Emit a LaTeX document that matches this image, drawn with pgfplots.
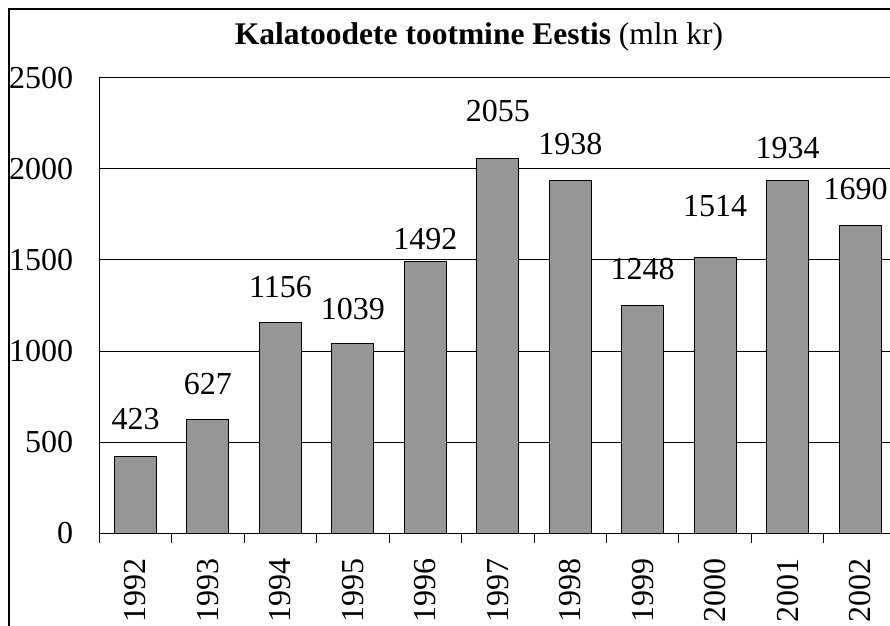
\documentclass[border=0pt]{standalone}
\usepackage{fontspec}
\setmainfont{Liberation Serif}
\usepackage{pgfplots}
\pgfplotsset{compat=1.18}
\definecolor{barGray}{HTML}{969696}
\begin{document}
\begin{tikzpicture}
\clip (0,0) rectangle (890pt,625pt);
\fill[white] (0,0) rectangle (890pt,625pt);
\begin{axis}[
  at={(99.3pt,91.7pt)}, anchor=south west,
  scale only axis, width=797pt, height=455.6pt,
  xmin=-0.5, xmax=10.5, ymin=0, ymax=2500,
  axis x line=bottom, axis y line=left,
  axis line style={line width=1.3pt, -},
  xtick={0,...,10},
  xticklabels={\textrm{1992},\textrm{1993},\textrm{1994},\textrm{1995},\textrm{1996},\textrm{1997},\textrm{1998},\textrm{1999},\textrm{2000},\textrm{2001},\textrm{2002}},
  minor xtick={-0.5,0.5,...,10.5},
  major tick length=0pt,
  minor tick length=10pt,
  tick align=outside,
  minor x tick style={line width=1pt, black},
  ytick={0,500,...,2500},
  ytick style={draw=none},
  ymajorgrids, grid style={line width=1pt, black},
  /pgf/number format/assume math mode=true,
  /pgf/number format/1000 sep={},
  tick label style={font=\fontsize{32}{36}\selectfont, inner sep=0pt},
  xticklabel style={rotate=90, anchor=east},
  xticklabel shift=25pt,
  yticklabel style={anchor=east},
  yticklabel shift=26pt,
  clip=false,
]
\addplot[ybar, bar width=0.58, fill=barGray, draw=black, line width=1pt]
  coordinates {(0,423) (1,627) (2,1156) (3,1039) (4,1492) (5,2055) (6,1938) (7,1248) (8,1514) (9,1934) (10,1690)};
\addplot[draw=none, mark=none, nodes near coords, point meta=explicit symbolic,
  nodes near coords style={anchor=base, inner sep=0pt, font=\fontsize{32}{36}\selectfont}]
  table[meta=lab] {
x y lab
0 567 423
1 764 627
2 1295 1156
3 1174 1039
4 1555 1492
5 2259 2055
6 2081 1938
7 1390 1248
8 1737 1514
9 2058 1934
9.94 1829 1690
};
\end{axis}
\draw[line width=2pt] (9pt,-5pt) -- (9pt,616pt) -- (900pt,616pt);
\node[anchor=base, inner sep=0pt, font=\fontsize{31.5}{36}\selectfont] at (479pt,580pt) {\textbf{Kalatoodete tootmine Eestis} (mln kr)};
\end{tikzpicture}
\end{document}
